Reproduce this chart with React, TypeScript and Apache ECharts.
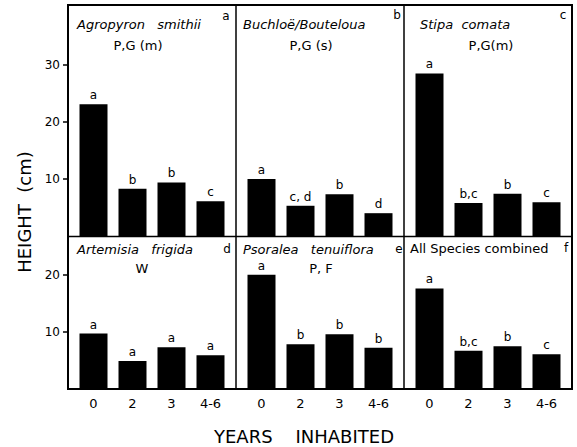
import React, { useEffect, useRef } from "react";
import * as echarts from "echarts";

const categories = ["0", "2", "3", "4-6"];

const panelTitles = [
  "Agropyron   smithii",
  "Buchloë/Bouteloua",
  "Stipa  comata",
  "Artemisia   frigida",
  "Psoralea   tenuiflora",
  "All Species combined",
];
const panelGroups = ["P,G (m)", "P,G (s)", "P,G(m)", "W", "P, F", ""];
const panelLetters = ["a", "b", "c", "d", "e", "f"];

const agropyronSmithii = [23.1, 8.3, 9.4, 6.1];
const buchloeBouteloua = [10.0, 5.3, 7.3, 4.0];
const stipaComata = [28.5, 5.8, 7.4, 5.9];
const artemisiaFrigida = [9.7, 4.9, 7.3, 5.9];
const psoraleaTenuiflora = [20.0, 7.85, 9.6, 7.2];
const allSpecies = [17.6, 6.7, 7.5, 6.1];

const sigAgropyron = ["a", "b", "b", "c"];
const sigBuchloe = ["a", "c, d", "b", "d"];
const sigStipa = ["a", "b,c", "b", "c"];
const sigArtemisia = ["a", "a", "a", "a"];
const sigPsoralea = ["a", "b", "b", "b"];
const sigAll = ["a", "b,c", "b", "c"];

const topRowTicks = [10, 20, 30];
const bottomRowTicks = [10, 20];

const yAxisTitle = "HEIGHT  (cm)";
const xAxisTitle = "YEARS    INHABITED";

const FONT = "'DejaVu Sans', sans-serif";

export default function App() {
  const ref = useRef<HTMLDivElement>(null);

  useEffect(() => {
    document.body.style.margin = "0";
    if (!ref.current) return;
    const chart = echarts.init(ref.current, undefined, { renderer: "svg" });

    const values = [agropyronSmithii, buchloeBouteloua, stipaComata, artemisiaFrigida, psoraleaTenuiflora, allSpecies];
    const sigs = [sigAgropyron, sigBuchloe, sigStipa, sigArtemisia, sigPsoralea, sigAll];

    const colX = [68, 236, 404];
    const colW = 168;
    const inset = 6;
    const rowTop = [5, 237];
    const rowH = [231, 152];
    const rowMax = [40.5, 26.6];

    const grids: any[] = [];
    const xAxes: any[] = [];
    const yAxes: any[] = [];
    const series: any[] = [];

    for (let i = 0; i < 6; i++) {
      const r = Math.floor(i / 3);
      const c = i % 3;
      grids.push({
        left: colX[c] + inset,
        width: colW - 2 * inset,
        top: rowTop[r],
        height: rowH[r],
        containLabel: false,
      });
      xAxes.push({
        type: "category",
        gridIndex: i,
        data: categories,
        axisLine: { show: false },
        axisTick: { show: false },
        axisLabel: {
          show: r === 1,
          color: "#000",
          fontSize: 13,
          fontFamily: FONT,
          margin: 8,
        },
      });
      const ticks = r === 0 ? topRowTicks : bottomRowTicks;
      yAxes.push({
        type: "value",
        gridIndex: i,
        min: 0,
        max: rowMax[r],
        offset: inset,
        splitLine: { show: false },
        axisLine: { show: false },
        axisTick: {
          show: c === 0,
          length: 5,
          customValues: ticks,
          lineStyle: { color: "#000", width: 1.5 },
        },
        axisLabel: {
          show: c === 0,
          customValues: ticks,
          color: "#000",
          fontSize: 12,
          fontFamily: FONT,
          margin: 8,
        },
      });
      const sig = sigs[i];
      series.push({
        type: "bar",
        xAxisIndex: i,
        yAxisIndex: i,
        data: values[i],
        barWidth: 28,
        itemStyle: { color: "#000" },
        label: {
          show: true,
          position: "top",
          distance: 3,
          color: "#000",
          fontSize: 12,
          fontFamily: FONT,
          formatter: (p: any) => sig[p.dataIndex],
        },
      });
    }

    const titlePos = [
      { x: 77, y: 24 },
      { x: 243, y: 24 },
      { x: 420, y: 24 },
      { x: 77, y: 249 },
      { x: 243, y: 249 },
      { x: 410, y: 248 },
    ];
    const groupPos = [
      { x: 138, y: 45 },
      { x: 311, y: 45 },
      { x: 491, y: 45 },
      { x: 142, y: 268 },
      { x: 321, y: 268 },
      { x: 490, y: 268 },
    ];
    const letterPos = [
      { x: 226, y: 16 },
      { x: 397, y: 15 },
      { x: 563, y: 15 },
      { x: 227, y: 249 },
      { x: 399, y: 249 },
      { x: 566, y: 248 },
    ];

    const graphics: any[] = [
      {
        type: "rect",
        shape: { x: 68, y: 5, width: 504, height: 384 },
        style: { fill: "none", stroke: "#000", lineWidth: 2 },
        z: 10,
      },
      {
        type: "line",
        shape: { x1: 68, y1: 236.5, x2: 572, y2: 236.5 },
        style: { stroke: "#000", lineWidth: 1.6 },
        z: 10,
      },
      {
        type: "line",
        shape: { x1: 236, y1: 5, x2: 236, y2: 389 },
        style: { stroke: "#000", lineWidth: 1.5 },
        z: 10,
      },
      {
        type: "line",
        shape: { x1: 404, y1: 5, x2: 404, y2: 389 },
        style: { stroke: "#000", lineWidth: 1.5 },
        z: 10,
      },
      {
        type: "text",
        x: 24,
        y: 212,
        rotation: Math.PI / 2,
        style: {
          text: yAxisTitle,
          fill: "#000",
          font: `18px ${FONT}`,
          textAlign: "center",
          textVerticalAlign: "middle",
        },
      },
      {
        type: "text",
        x: 304,
        y: 436,
        style: {
          text: xAxisTitle,
          fill: "#000",
          font: `18px ${FONT}`,
          textAlign: "center",
          textVerticalAlign: "middle",
        },
      },
    ];

    for (let i = 0; i < 6; i++) {
      graphics.push({
        type: "text",
        x: titlePos[i].x,
        y: titlePos[i].y,
        style: {
          text: panelTitles[i],
          fill: "#000",
          font: `${i === 5 ? "normal" : "italic"} 13px ${FONT}`,
          textAlign: "left",
          textVerticalAlign: "middle",
        },
      });
      if (panelGroups[i]) {
        graphics.push({
          type: "text",
          x: groupPos[i].x,
          y: groupPos[i].y,
          style: {
            text: panelGroups[i],
            fill: "#000",
            font: `13px ${FONT}`,
            textAlign: "center",
            textVerticalAlign: "middle",
          },
        });
      }
      graphics.push({
        type: "text",
        x: letterPos[i].x,
        y: letterPos[i].y,
        style: {
          text: panelLetters[i],
          fill: "#000",
          font: `12px ${FONT}`,
          textAlign: "center",
          textVerticalAlign: "middle",
        },
      });
    }

    chart.setOption({
      animation: false,
      backgroundColor: "#fff",
      grid: grids,
      xAxis: xAxes,
      yAxis: yAxes,
      series,
      graphic: graphics,
    });

    return () => chart.dispose();
  }, []);

  return <div ref={ref} style={{ width: 577, height: 447 }} />;
}
